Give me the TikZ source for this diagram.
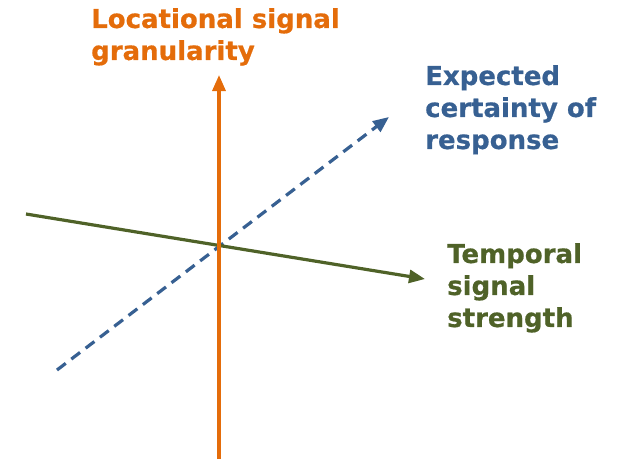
\documentclass[tikz,border=0pt]{standalone}
\usepackage{fontspec}
\setmainfont{DejaVu Sans}[BoldFeatures={FakeBold=0.6}]
\usetikzlibrary{arrows.meta}
\definecolor{axorange}{HTML}{E46C0A}
\definecolor{axblue}{HTML}{376092}
\definecolor{axgreen}{HTML}{4F6228}
\tikzset{
  axis/.style={line width=3.2pt, -{Triangle[length=16pt,width=13pt]}},
  lbl/.style={anchor=north west, inner sep=0pt, align=left, font=\fontsize{26}{32}\selectfont\bfseries}
}
\begin{document}
\begin{tikzpicture}[x=1pt,y=-1pt]
\useasboundingbox (0,0) rectangle (626,459);
\coordinate (ob) at (219,459);
\coordinate (ot) at (219,75);
\coordinate (gs) at (26,214);
\coordinate (ge) at (425,279);
\coordinate (bs) at (57,370);
\coordinate (be) at (389,117);
\draw[axis, axblue, dash pattern=on 11pt off 7pt] (bs) -- (be);
\draw[axis, axgreen] (gs) -- (ge);
\draw[axis, axorange] (ob) -- (ot);
\node[lbl, text=axorange] (loc) at (91,8) {Locational signal\\granularity};
\node[lbl, text=axblue] (exp) at (425,65) {Expected\\certainty of\\response};
\node[lbl, text=axgreen] (tem) at (447,243) {Temporal\\signal\\strength};
\end{tikzpicture}
\end{document}
